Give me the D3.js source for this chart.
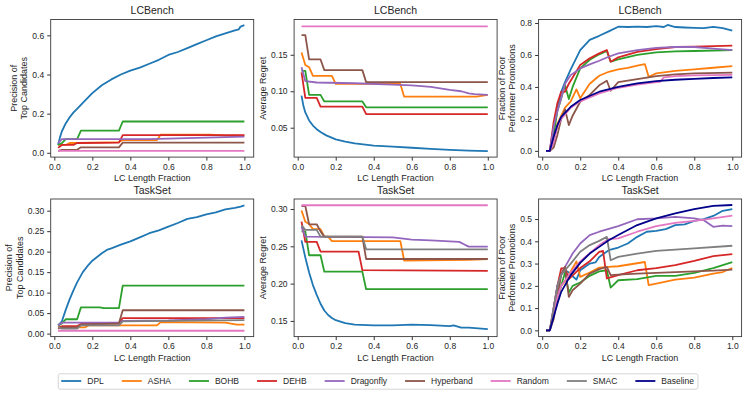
<!DOCTYPE html>
<html>
<head>
<meta charset="utf-8">
<script src="https://cdn.jsdelivr.net/npm/d3@7"></script>
<style>
  body { margin: 0; background: #fff; }
  svg { display: block; font-family: "Liberation Sans", Arial, sans-serif; }
  .tick text { fill: #262626; font-size: 8.5px; }
  .tick line { stroke: #333; }
  .axis-label { fill: #262626; font-size: 9px; }
  .title { fill: #262626; font-size: 10.5px; }
  .legend-text { fill: #262626; font-size: 8.5px; }
</style>
</head>
<body>
<svg id="fig" width="748" height="396"></svg>
<script>
// Methods and their colours (matplotlib tab10 + navy baseline)
const methods = ['DPL', 'ASHA', 'BOHB', 'DEHB', 'Dragonfly', 'Hyperband', 'Random', 'SMAC', 'Baseline'];
const methodColors = ['#1f77b4', '#ff7f0e', '#2ca02c', '#d62728', '#9467bd', '#8c564b', '#e377c2', '#7f7f7f', '#00008b'];

const xTicks = [0, 0.2, 0.4, 0.6, 0.8, 1.0];

// LCBench - precision of top candidates
const lcPrecision = {
  DPL: [[0.02,0.04],[0.03,0.08],[0.04,0.11],[0.06,0.15],[0.08,0.18],[0.1,0.205],[0.12,0.225],[0.15,0.255],[0.2,0.305],[0.25,0.345],[0.3,0.375],[0.35,0.40],[0.4,0.42],[0.45,0.435],[0.5,0.455],[0.55,0.475],[0.6,0.50],[0.65,0.515],[0.7,0.535],[0.75,0.555],[0.8,0.575],[0.85,0.595],[0.9,0.61],[0.95,0.625],[0.97,0.63],[0.98,0.645],[1.0,0.652]],
  ASHA: [[0.02,0.04],[0.06,0.04],[0.08,0.05],[0.12,0.05],[0.34,0.055],[0.36,0.065],[0.54,0.065],[0.56,0.093],[0.82,0.093],[0.9,0.088],[1.0,0.088]],
  BOHB: [[0.02,0.04],[0.04,0.05],[0.06,0.07],[0.12,0.07],[0.14,0.113],[0.34,0.113],[0.36,0.16],[1.0,0.16]],
  DEHB: [[0.02,0.025],[0.04,0.04],[0.1,0.04],[0.12,0.05],[0.34,0.052],[0.36,0.09],[1.0,0.09]],
  Dragonfly: [[0.02,0.05],[0.04,0.07],[0.3,0.07],[0.5,0.07],[0.7,0.075],[0.9,0.08],[1.0,0.083]],
  Hyperband: [[0.02,0.01],[0.04,0.015],[0.12,0.015],[0.14,0.028],[0.34,0.028],[0.36,0.052],[1.0,0.052]],
  Random: [[0.02,0.01],[1.0,0.01]]
};
const lcPrecisionLim = [-0.022, 0.681];
const lcPrecisionTicks = [0, 0.2, 0.4, 0.6];

// LCBench - average regret
const lcRegret = {
  DPL: [[0.02,0.094],[0.03,0.08],[0.04,0.071],[0.06,0.06],[0.08,0.053],[0.1,0.048],[0.12,0.044],[0.15,0.0395],[0.2,0.034],[0.25,0.031],[0.3,0.0285],[0.4,0.0255],[0.5,0.024],[0.6,0.0225],[0.7,0.021],[0.8,0.0195],[0.9,0.0185],[1.0,0.018]],
  ASHA: [[0.02,0.153],[0.04,0.136],[0.06,0.133],[0.08,0.121],[0.18,0.121],[0.2,0.11],[0.54,0.11],[0.56,0.0925],[0.94,0.0925],[1.0,0.095]],
  BOHB: [[0.02,0.128],[0.04,0.128],[0.06,0.095],[0.12,0.095],[0.14,0.086],[0.34,0.086],[0.36,0.078],[1.0,0.078]],
  DEHB: [[0.02,0.126],[0.04,0.091],[0.1,0.091],[0.12,0.079],[0.34,0.079],[0.36,0.0686],[1.0,0.0686]],
  Dragonfly: [[0.02,0.133],[0.04,0.114],[0.1,0.112],[0.3,0.111],[0.5,0.109],[0.6,0.108],[0.7,0.106],[0.8,0.102],[0.86,0.1],[0.9,0.097],[0.93,0.096],[1.0,0.095]],
  Hyperband: [[0.02,0.177],[0.04,0.177],[0.06,0.1436],[0.12,0.1436],[0.14,0.129],[0.34,0.129],[0.36,0.1125],[1.0,0.1125]],
  Random: [[0.02,0.189],[1.0,0.189]]
};
const lcRegretLim = [0.0097, 0.1984];
const lcRegretTicks = [0.05, 0.10, 0.15];

// LCBench - fraction of poor performer promotions
const lcPoor = {
  DPL: [[0.02,0],[0.04,0],[0.06,0.15],[0.08,0.27],[0.1,0.37],[0.12,0.43],[0.15,0.51],[0.2,0.63],[0.25,0.695],[0.3,0.72],[0.35,0.748],[0.4,0.777],[0.45,0.775],[0.5,0.778],[0.55,0.775],[0.6,0.78],[0.64,0.775],[0.66,0.788],[0.7,0.775],[0.75,0.772],[0.8,0.77],[0.85,0.768],[0.9,0.776],[0.95,0.768],[1.0,0.752]],
  ASHA: [[0.02,0],[0.04,0],[0.06,0.05],[0.08,0.17],[0.1,0.22],[0.12,0.27],[0.15,0.31],[0.18,0.385],[0.2,0.33],[0.25,0.42],[0.3,0.47],[0.35,0.495],[0.4,0.51],[0.45,0.52],[0.5,0.533],[0.54,0.543],[0.56,0.464],[0.6,0.485],[0.7,0.5],[0.8,0.51],[0.9,0.52],[1.0,0.53]],
  BOHB: [[0.02,0],[0.04,0],[0.06,0.1],[0.08,0.25],[0.1,0.33],[0.12,0.41],[0.14,0.324],[0.16,0.4],[0.2,0.516],[0.25,0.57],[0.3,0.604],[0.34,0.625],[0.36,0.558],[0.4,0.573],[0.5,0.6],[0.6,0.616],[0.7,0.622],[0.8,0.625],[1.0,0.631]],
  DEHB: [[0.02,0],[0.04,0],[0.06,0.18],[0.08,0.3],[0.1,0.37],[0.12,0.37],[0.14,0.42],[0.2,0.537],[0.25,0.579],[0.3,0.61],[0.34,0.631],[0.36,0.558],[0.4,0.585],[0.5,0.62],[0.6,0.637],[0.7,0.65],[0.8,0.652],[1.0,0.658]],
  Dragonfly: [[0.02,0],[0.04,0],[0.06,0.15],[0.08,0.25],[0.1,0.33],[0.12,0.42],[0.15,0.474],[0.2,0.516],[0.25,0.541],[0.3,0.564],[0.35,0.589],[0.4,0.61],[0.5,0.631],[0.6,0.645],[0.7,0.65],[0.8,0.65],[0.9,0.64],[1.0,0.631]],
  Hyperband: [[0.02,0],[0.04,0],[0.06,0.02],[0.08,0.1],[0.1,0.2],[0.12,0.26],[0.14,0.161],[0.16,0.22],[0.2,0.307],[0.25,0.35],[0.3,0.41],[0.34,0.439],[0.36,0.376],[0.4,0.43],[0.5,0.449],[0.6,0.468],[0.7,0.478],[0.8,0.485],[1.0,0.489]],
  Random: [[0.02,0],[0.04,0],[0.06,0.05],[0.08,0.15],[0.1,0.2],[0.15,0.27],[0.2,0.31],[0.3,0.36],[0.4,0.395],[0.5,0.415],[0.6,0.43],[0.62,0.432],[0.64,0.46],[0.7,0.468],[0.8,0.472],[1.0,0.475]],
  Baseline: [[0.02,0],[0.04,0],[0.06,0.088],[0.08,0.161],[0.1,0.213],[0.15,0.276],[0.2,0.318],[0.3,0.37],[0.4,0.40],[0.5,0.422],[0.6,0.437],[0.7,0.445],[0.8,0.451],[0.9,0.456],[1.0,0.46]]
};
const lcPoorLim = [-0.039, 0.822];
const lcPoorTicks = [0, 0.2, 0.4, 0.6, 0.8];

// TaskSet - precision of top candidates
const tsPrecision = {
  DPL: [[0.02,0.02],[0.04,0.03],[0.06,0.058],[0.08,0.083],[0.1,0.105],[0.12,0.125],[0.15,0.15],[0.18,0.168],[0.2,0.178],[0.25,0.196],[0.28,0.205],[0.3,0.208],[0.35,0.217],[0.4,0.225],[0.45,0.235],[0.5,0.245],[0.55,0.252],[0.6,0.261],[0.65,0.27],[0.7,0.28],[0.75,0.284],[0.8,0.291],[0.85,0.296],[0.9,0.303],[0.95,0.307],[0.98,0.31],[1.0,0.313]],
  ASHA: [[0.02,0.02],[0.04,0.015],[0.16,0.015],[0.18,0.02],[0.54,0.02],[0.56,0.028],[0.9,0.027],[0.96,0.022],[1.0,0.022]],
  BOHB: [[0.02,0.02],[0.04,0.025],[0.06,0.035],[0.12,0.035],[0.14,0.064],[0.24,0.064],[0.26,0.062],[0.34,0.062],[0.36,0.117],[1.0,0.117]],
  DEHB: [[0.02,0.012],[0.04,0.018],[0.12,0.018],[0.14,0.024],[0.34,0.025],[0.36,0.038],[1.0,0.038]],
  Dragonfly: [[0.02,0.02],[0.04,0.027],[0.34,0.027],[0.36,0.031],[0.6,0.032],[0.8,0.035],[0.9,0.039],[1.0,0.041]],
  Hyperband: [[0.02,0.015],[0.12,0.015],[0.14,0.022],[0.34,0.025],[0.36,0.057],[1.0,0.057]],
  Random: [[0.02,0.007],[1.0,0.007]],
  SMAC: [[0.02,0.015],[0.04,0.012],[0.12,0.012],[0.14,0.02],[0.34,0.02],[0.36,0.03],[1.0,0.033]]
};
const tsPrecisionLim = [-0.0073, 0.3285];
const tsPrecisionTicks = [0, 0.05, 0.10, 0.15, 0.20, 0.25, 0.30];

// TaskSet - average regret
const tsRegret = {
  DPL: [[0.02,0.258],[0.04,0.235],[0.06,0.215],[0.08,0.198],[0.1,0.185],[0.12,0.173],[0.14,0.164],[0.16,0.158],[0.18,0.154],[0.2,0.151],[0.25,0.147],[0.3,0.145],[0.4,0.144],[0.5,0.144],[0.6,0.145],[0.7,0.1445],[0.8,0.143],[0.82,0.144],[0.86,0.141],[0.9,0.141],[0.95,0.14],[1.0,0.139]],
  ASHA: [[0.02,0.298],[0.04,0.283],[0.06,0.28],[0.08,0.273],[0.12,0.273],[0.14,0.263],[0.16,0.263],[0.18,0.257],[0.54,0.257],[0.56,0.231],[0.9,0.232],[1.0,0.233]],
  BOHB: [[0.02,0.27],[0.04,0.27],[0.06,0.238],[0.12,0.238],[0.14,0.216],[0.34,0.216],[0.36,0.1925],[1.0,0.1925]],
  DEHB: [[0.02,0.283],[0.04,0.256],[0.1,0.256],[0.12,0.243],[0.32,0.243],[0.34,0.218],[1.0,0.217]],
  Dragonfly: [[0.02,0.276],[0.04,0.263],[0.5,0.262],[0.6,0.259],[0.7,0.258],[0.8,0.2565],[0.85,0.256],[0.88,0.252],[0.9,0.2495],[1.0,0.2495]],
  Hyperband: [[0.02,0.304],[0.04,0.304],[0.06,0.2795],[0.1,0.2795],[0.12,0.27],[0.14,0.263],[0.34,0.263],[0.36,0.233],[1.0,0.233]],
  Random: [[0.02,0.305],[1.0,0.305]],
  SMAC: [[0.02,0.278],[0.04,0.272],[0.1,0.272],[0.12,0.263],[0.34,0.263],[0.36,0.246],[1.0,0.246]]
};
const tsRegretLim = [0.129, 0.3134];
const tsRegretTicks = [0.15, 0.20, 0.25, 0.30];

// TaskSet - fraction of poor performer promotions
const tsPoor = {
  DPL: [[0.02,0],[0.04,0],[0.06,0.08],[0.08,0.2],[0.1,0.25],[0.12,0.27],[0.14,0.26],[0.16,0.243],[0.18,0.228],[0.2,0.27],[0.25,0.3],[0.28,0.305],[0.3,0.33],[0.35,0.36],[0.4,0.372],[0.45,0.39],[0.5,0.42],[0.55,0.443],[0.6,0.447],[0.65,0.455],[0.7,0.473],[0.75,0.476],[0.8,0.492],[0.85,0.5],[0.9,0.514],[0.95,0.537],[1.0,0.545]],
  ASHA: [[0.02,0],[0.04,0],[0.06,0.08],[0.08,0.15],[0.1,0.2],[0.12,0.22],[0.14,0.25],[0.18,0.31],[0.2,0.24],[0.25,0.26],[0.3,0.282],[0.35,0.285],[0.4,0.288],[0.54,0.307],[0.56,0.203],[0.6,0.21],[0.7,0.228],[0.8,0.237],[0.9,0.255],[0.95,0.262],[1.0,0.28]],
  BOHB: [[0.02,0],[0.04,0],[0.06,0.08],[0.08,0.15],[0.1,0.2],[0.12,0.26],[0.14,0.17],[0.16,0.2],[0.2,0.215],[0.25,0.245],[0.3,0.265],[0.34,0.27],[0.36,0.192],[0.4,0.225],[0.5,0.23],[0.6,0.245],[0.7,0.245],[0.8,0.258],[0.9,0.28],[1.0,0.306]],
  DEHB: [[0.02,0],[0.04,0],[0.06,0.1],[0.08,0.2],[0.1,0.278],[0.12,0.28],[0.14,0.23],[0.2,0.28],[0.25,0.31],[0.3,0.353],[0.32,0.357],[0.34,0.233],[0.4,0.248],[0.5,0.27],[0.6,0.28],[0.7,0.293],[0.8,0.312],[0.9,0.333],[1.0,0.342]],
  Dragonfly: [[0.02,0],[0.04,0],[0.06,0.1],[0.08,0.2],[0.1,0.25],[0.12,0.285],[0.16,0.345],[0.2,0.39],[0.25,0.428],[0.3,0.443],[0.4,0.468],[0.5,0.499],[0.6,0.503],[0.7,0.51],[0.8,0.503],[0.85,0.495],[0.9,0.465],[0.95,0.47],[1.0,0.468]],
  Hyperband: [[0.02,0],[0.04,0],[0.06,0.05],[0.08,0.15],[0.1,0.25],[0.12,0.285],[0.14,0.15],[0.16,0.18],[0.2,0.21],[0.25,0.255],[0.3,0.275],[0.34,0.285],[0.36,0.248],[0.4,0.25],[0.5,0.255],[0.6,0.258],[0.7,0.262],[0.8,0.265],[0.9,0.268],[1.0,0.273]],
  Random: [[0.02,0],[0.04,0],[0.06,0.08],[0.08,0.15],[0.1,0.2],[0.15,0.26],[0.2,0.31],[0.3,0.383],[0.35,0.41],[0.4,0.413],[0.5,0.443],[0.6,0.468],[0.7,0.483],[0.8,0.492],[0.9,0.503],[1.0,0.515]],
  SMAC: [[0.02,0],[0.04,0],[0.06,0.1],[0.08,0.2],[0.1,0.25],[0.12,0.27],[0.15,0.3],[0.2,0.353],[0.25,0.383],[0.3,0.402],[0.34,0.42],[0.36,0.315],[0.4,0.33],[0.5,0.345],[0.6,0.357],[0.7,0.363],[0.8,0.368],[1.0,0.38]],
  Baseline: [[0.02,0],[0.04,0],[0.06,0.06],[0.08,0.12],[0.1,0.173],[0.15,0.248],[0.2,0.303],[0.25,0.345],[0.3,0.375],[0.35,0.405],[0.4,0.428],[0.5,0.473],[0.6,0.503],[0.7,0.525],[0.8,0.545],[0.9,0.559],[1.0,0.563]]
};
const tsPoorLim = [-0.028, 0.59];
const tsPoorTicks = [0, 0.1, 0.2, 0.3, 0.4, 0.5];

// Panel layout (axes boxes in px)
const colLeft = [50.7, 294.1, 538.6];
const rowTop = [19.5, 199];
const axW = 203;
const axH = 137.6;
const xLim = [-0.019, 1.049];

const panels = [
  { data: lcPrecision, title: 'LCBench', ylabel: ['Precision of', 'Top Candidates'], yLim: lcPrecisionLim, yTicks: lcPrecisionTicks, fmt: '.1f', row: 0, col: 0 },
  { data: lcRegret, title: 'LCBench', ylabel: ['Average Regret'], yLim: lcRegretLim, yTicks: lcRegretTicks, fmt: '.2f', row: 0, col: 1 },
  { data: lcPoor, title: 'LCBench', ylabel: ['Fraction of Poor', 'Performer Promotions'], yLim: lcPoorLim, yTicks: lcPoorTicks, fmt: '.1f', row: 0, col: 2 },
  { data: tsPrecision, title: 'TaskSet', ylabel: ['Precision of', 'Top Candidates'], yLim: tsPrecisionLim, yTicks: tsPrecisionTicks, fmt: '.2f', row: 1, col: 0 },
  { data: tsRegret, title: 'TaskSet', ylabel: ['Average Regret'], yLim: tsRegretLim, yTicks: tsRegretTicks, fmt: '.2f', row: 1, col: 1 },
  { data: tsPoor, title: 'TaskSet', ylabel: ['Fraction of Poor', 'Performer Promotions'], yLim: tsPoorLim, yTicks: tsPoorTicks, fmt: '.1f', row: 1, col: 2 },
];

const svg = d3.select('#fig');
svg.append('rect').attr('width', 748).attr('height', 396).attr('fill', '#fff');

const color = d3.scaleOrdinal().domain(methods).range(methodColors);

panels.forEach((p) => {
  const left = colLeft[p.col];
  const top = rowTop[p.row];
  const g = svg.append('g').attr('transform', `translate(${left},${top})`);

  const x = d3.scaleLinear().domain(xLim).range([0, axW]);
  const y = d3.scaleLinear().domain(p.yLim).range([axH, 0]);

  // Axes
  const xAxis = g.append('g')
    .attr('transform', `translate(0,${axH})`)
    .call(d3.axisBottom(x).tickValues(xTicks).tickFormat(d3.format('.1f')).tickSize(3.5).tickPadding(3));
  xAxis.select('.domain').remove();

  const yAxis = g.append('g')
    .call(d3.axisLeft(y).tickValues(p.yTicks).tickFormat(d3.format(p.fmt)).tickSize(3.5).tickPadding(3));
  yAxis.select('.domain').remove();

  // Clip lines to the axes area
  const clipId = `clip-${p.row}-${p.col}`;
  g.append('clipPath').attr('id', clipId)
    .append('rect').attr('width', axW).attr('height', axH);

  const line = d3.line()
    .x((d) => x(d[0]))
    .y((d) => y(d[1]));

  const lines = g.append('g').attr('clip-path', `url(#${clipId})`);
  methods.forEach((m) => {
    if (!p.data[m]) return;
    lines.append('path')
      .datum(p.data[m])
      .attr('d', line)
      .attr('fill', 'none')
      .attr('stroke', color(m))
      .attr('stroke-width', 1.8)
      .attr('stroke-linejoin', 'round')
      .attr('stroke-linecap', 'butt');
  });

  // Frame
  g.append('rect')
    .attr('width', axW).attr('height', axH)
    .attr('fill', 'none')
    .attr('stroke', '#3a3a3a')
    .attr('stroke-width', 0.9);

  // Title
  g.append('text')
    .attr('class', 'title')
    .attr('x', axW / 2)
    .attr('y', -5.5)
    .attr('text-anchor', 'middle')
    .text(p.title);

  // X label
  g.append('text')
    .attr('class', 'axis-label')
    .attr('x', axW / 2)
    .attr('y', axH + 24)
    .attr('text-anchor', 'middle')
    .text('LC Length Fraction');

  // Y label sits left of the tick labels
  const tickLeft = yAxis.node().getBBox().x;
  const lastBase = tickLeft - 5;
  const ylab = g.append('text')
    .attr('class', 'axis-label')
    .attr('text-anchor', 'middle')
    .attr('transform', `translate(${lastBase - (p.ylabel.length - 1) * 10.5},${axH / 2}) rotate(-90)`);
  p.ylabel.forEach((t, i) => {
    ylab.append('tspan')
      .attr('x', 0)
      .attr('dy', i === 0 ? 0 : 10.5)
      .text(t);
  });
});

// Legend
const legend = svg.append('g');
const entries = [];
let cursor = 0;
methods.forEach((m) => {
  const eg = legend.append('g').attr('transform', `translate(${cursor},0)`);
  eg.append('line')
    .attr('x1', 0).attr('x2', 20)
    .attr('y1', 0).attr('y2', 0)
    .attr('stroke', color(m))
    .attr('stroke-width', 1.8);
  const t = eg.append('text')
    .attr('class', 'legend-text')
    .attr('x', 26)
    .attr('y', 3.2)
    .text(m);
  const w = t.node().getComputedTextLength();
  cursor += 26 + w + 18;
  entries.push(eg);
});
const legendWidth = cursor - 18;
const legendX = 377.6 - legendWidth / 2;
legend.attr('transform', `translate(${legendX},381)`);
legend.insert('rect', ':first-child')
  .attr('x', -3).attr('y', -7.2)
  .attr('width', legendWidth + 7).attr('height', 15.4)
  .attr('rx', 2)
  .attr('fill', '#fff')
  .attr('stroke', '#d0d0d0')
  .attr('stroke-width', 0.9);
</script>
</body>
</html>
